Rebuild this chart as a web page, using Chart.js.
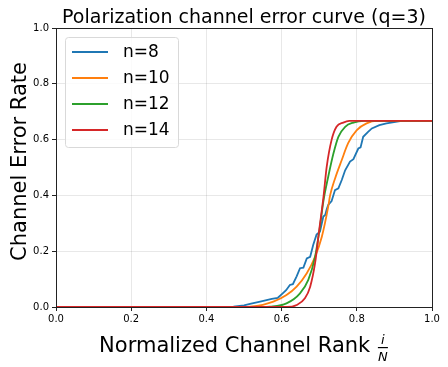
<!DOCTYPE html>
<html>
<head>
<meta charset="utf-8">
<script src="https://cdn.jsdelivr.net/npm/chart.js@4"></script>
<style>
  body { margin: 0; background: #fff; }
  canvas { display: block; }
</style>
</head>
<body>
<canvas id="myChart" width="448" height="367"></canvas>
<script>
// values
const xTicks = [0, 0.2, 0.4, 0.6, 0.8, 1.0];
const yTicks = [0, 0.2, 0.4, 0.6, 0.8, 1.0];

const n8X = [0, 0.44, 0.472, 0.5, 0.516, 0.543, 0.574, 0.59, 0.6, 0.612, 0.622, 0.63, 0.64, 0.649, 0.658, 0.667, 0.676, 0.684, 0.693, 0.702, 0.711, 0.716, 0.72, 0.724, 0.733, 0.742, 0.751, 0.76, 0.769, 0.782, 0.791, 0.804, 0.81, 0.817, 0.83, 0.84, 0.86, 0.879, 0.915, 1.0];
const n8Y = [0, 0, 0.001, 0.006, 0.011, 0.019, 0.029, 0.033, 0.045, 0.06, 0.079, 0.082, 0.11, 0.139, 0.141, 0.174, 0.18, 0.222, 0.26, 0.27, 0.324, 0.33, 0.35, 0.366, 0.38, 0.419, 0.425, 0.455, 0.49, 0.521, 0.53, 0.568, 0.572, 0.61, 0.628, 0.64, 0.652, 0.658, 0.666, 0.667];

const n10X = [0, 0.5, 0.516, 0.55, 0.578, 0.613, 0.64, 0.667, 0.689, 0.707, 0.724, 0.729, 0.742, 0.76, 0.777, 0.8, 0.826, 0.853, 1.0];
const n10Y = [0, 0, 0.001, 0.008, 0.019, 0.043, 0.073, 0.121, 0.18, 0.252, 0.36, 0.4, 0.46, 0.527, 0.587, 0.634, 0.658, 0.667, 0.667];

const n12X = [0, 0.55, 0.569, 0.613, 0.649, 0.671, 0.689, 0.702, 0.711, 0.724, 0.738, 0.751, 0.769, 0.791, 0.82, 1.0];
const n12Y = [0, 0, 0.001, 0.013, 0.049, 0.097, 0.18, 0.288, 0.378, 0.467, 0.551, 0.61, 0.646, 0.661, 0.667, 0.667];

const n14X = [0, 0.6, 0.613, 0.64, 0.662, 0.676, 0.689, 0.7, 0.711, 0.72, 0.733, 0.746, 0.764, 0.78, 1.0];
const n14Y = [0, 0, 0, 0.007, 0.031, 0.073, 0.157, 0.276, 0.39, 0.503, 0.599, 0.646, 0.661, 0.667, 0.667];

const seriesNames = ["n=8", "n=10", "n=12", "n=14"];
const colors = ["#1f77b4", "#ff7f0e", "#2ca02c", "#d62728"];

const FONT = "'DejaVu Sans', sans-serif";

function toPoints(xs, ys) {
  return xs.map((x, i) => ({ x: x, y: ys[i] }));
}

const allX = [n8X, n10X, n12X, n14X];
const allY = [n8Y, n10Y, n12Y, n14Y];

const datasets = seriesNames.map((name, i) => ({
  label: name,
  data: toPoints(allX[i], allY[i]),
  borderColor: colors[i],
  backgroundColor: colors[i],
  borderWidth: 1.8,
  pointRadius: 0,
  showLine: true,
  fill: false,
  tension: 0,
  cubicInterpolationMode: i === 0 ? "default" : "monotone",
  order: 4 - i,
}));

// frame, title, axis titles and legend drawn like matplotlib
const decor = {
  id: "decor",
  afterDraw(chart) {
    const ctx = chart.ctx;
    const a = chart.chartArea;
    ctx.save();
    ctx.strokeStyle = "#222";
    ctx.lineWidth = 1;
    ctx.strokeRect(a.left + 0.5, a.top + 0.5, a.right - a.left, a.bottom - a.top);

    const cx = (a.left + a.right) / 2;
    ctx.fillStyle = "#000";
    ctx.textBaseline = "alphabetic";
    ctx.textAlign = "center";
    ctx.font = "19px " + FONT;
    ctx.fillText("Polarization channel error curve (q=3)", cx, 23);

    // x axis title with the i/N fraction
    ctx.font = "21px " + FONT;
    const main = "Normalized Channel Rank ";
    const wMain = ctx.measureText(main).width;
    const wFrac = 12;
    const x0 = cx - (wMain + wFrac) / 2;
    ctx.textAlign = "left";
    ctx.fillText(main, x0, 352);
    const fx = x0 + wMain + wFrac / 2;
    ctx.textAlign = "center";
    ctx.font = "italic 13px " + FONT;
    ctx.fillText("i", fx, 344);
    ctx.fillText("N", fx, 361);
    ctx.fillRect(fx - 5, 347, 10, 1.2);

    // y axis title
    ctx.save();
    ctx.translate(26, (a.top + a.bottom) / 2 - 6);
    ctx.rotate(-Math.PI / 2);
    ctx.font = "21px " + FONT;
    ctx.textAlign = "center";
    ctx.fillText("Channel Error Rate", 0, 0);
    ctx.restore();

    // legend box
    const lx = 65, ly = 37, lw = 113, lh = 110;
    ctx.fillStyle = "rgba(255,255,255,0.8)";
    ctx.strokeStyle = "#d9d9d9";
    ctx.lineWidth = 1;
    ctx.beginPath();
    ctx.roundRect(lx + 0.5, ly + 0.5, lw, lh, 3);
    ctx.fill();
    ctx.stroke();
    ctx.font = "17px " + FONT;
    ctx.textAlign = "left";
    ctx.textBaseline = "middle";
    chart.data.datasets.forEach((ds, i) => {
      const ry = 52 + i * 26;
      ctx.strokeStyle = ds.borderColor;
      ctx.lineWidth = 1.8;
      ctx.beginPath();
      ctx.moveTo(72, ry);
      ctx.lineTo(108, ry);
      ctx.stroke();
      ctx.fillStyle = "#000";
      ctx.fillText(ds.label, 123, ry + 1);
    });
    ctx.restore();
  },
};

const ctx = document.getElementById("myChart").getContext("2d");
new Chart(ctx, {
  type: "scatter",
  data: { datasets },
  options: {
    responsive: false,
    animation: false,
    layout: { padding: { left: 0, top: 28, right: 16, bottom: 0 } },
    plugins: {
      legend: { display: false },
      tooltip: { enabled: false },
      title: { display: false },
    },
    scales: {
      x: {
        type: "linear",
        min: 0,
        max: 1,
        afterBuildTicks: (scale) => {
          scale.ticks = xTicks.map((v) => ({ value: v }));
        },
        afterFit: (scale) => {
          scale.height = 60;
        },
        ticks: {
          color: "#000",
          font: { family: FONT, size: 10 },
          padding: 2,
          maxRotation: 0,
          callback: (v) => v.toFixed(1),
        },
        grid: {
          color: "rgba(0,0,0,0.09)",
          tickColor: "#222",
          tickLength: 4,
        },
        border: { display: true, color: "#222" },
      },
      y: {
        type: "linear",
        min: 0,
        max: 1,
        afterBuildTicks: (scale) => {
          scale.ticks = yTicks.map((v) => ({ value: v }));
        },
        afterFit: (scale) => {
          scale.width = 56;
        },
        ticks: {
          color: "#000",
          font: { family: FONT, size: 10 },
          padding: 3,
          callback: (v) => v.toFixed(1),
        },
        grid: {
          color: "rgba(0,0,0,0.09)",
          tickColor: "#222",
          tickLength: 4,
        },
        border: { display: true, color: "#222" },
      },
    },
  },
  plugins: [decor],
});
</script>
</body>
</html>
